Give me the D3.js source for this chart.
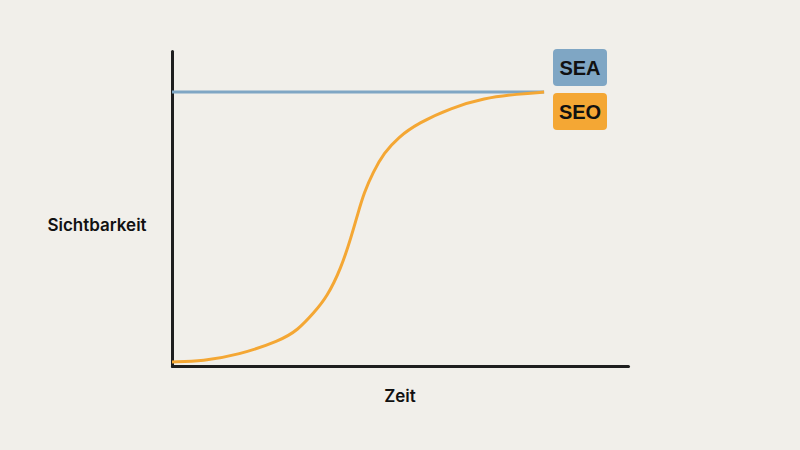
<!DOCTYPE html>
<html>
<head>
<meta charset="utf-8">
<script src="https://cdn.jsdelivr.net/npm/d3@7"></script>
<style>
  html, body { margin: 0; padding: 0; background: #f1efea; }
  svg { display: block; }
</style>
</head>
<body>
<div id="chart"></div>
<script>
// time (0-100) vs visibility (0-100)
const seaTime = [0, 81.6];
const seaValues = [100, 100];

const seoTime = [0, 6.8, 14.5, 23.7, 27.6, 31.1, 34.0, 37.1, 39.3, 40.8, 42.1, 44.1, 46.5, 49.6, 54.0, 61.2, 68.4, 75.9, 81.6];
const seoValues = [1.5, 1.8, 4.0, 9.2, 13.1, 19.4, 25.2, 35.8, 47.1, 55.9, 63.2, 70.8, 77.8, 83.5, 88.7, 94.2, 97.8, 99.3, 100];

const legendLabels = ["SEA", "SEO"];
const legendColors = ["#7fa6c4", "#f4a734"];

const width = 800, height = 450;

const svg = d3.select("#chart")
    .append("svg")
    .attr("width", width)
    .attr("height", height);

svg.append("rect")
    .attr("width", width)
    .attr("height", height)
    .attr("fill", "#f1efea");

const xScale = d3.scaleLinear().domain([0, 100]).range([172, 628]);
const yScale = d3.scaleLinear().domain([0, 115]).range([366, 51]);

const line = d3.line()
    .x(d => xScale(d[0]))
    .y(d => yScale(d[1]))
    .curve(d3.curveBasis);

// axes without ticks
const xAxis = d3.axisBottom(xScale).ticks(0).tickSize(0).tickSizeOuter(0);
const yAxis = d3.axisLeft(yScale).ticks(0).tickSize(0).tickSizeOuter(0);

svg.append("g")
    .attr("transform", `translate(0,${yScale(0)})`)
    .call(xAxis)
    .call(g => g.select(".domain")
        .attr("stroke", "#1e1e1e")
        .attr("stroke-width", 3)
        .attr("stroke-linecap", "round"));

svg.append("g")
    .attr("transform", `translate(${xScale(0)},0)`)
    .call(yAxis)
    .call(g => g.select(".domain")
        .attr("stroke", "#1e1e1e")
        .attr("stroke-width", 3)
        .attr("stroke-linecap", "round"));

svg.append("path")
    .datum(d3.zip(seaTime, seaValues))
    .attr("fill", "none")
    .attr("stroke", legendColors[0])
    .attr("stroke-width", 3)
    .attr("d", line);

svg.append("path")
    .datum(d3.zip(seoTime, seoValues))
    .attr("fill", "none")
    .attr("stroke", legendColors[1])
    .attr("stroke-width", 3)
    .attr("d", line);

// axis labels
svg.append("text")
    .attr("x", 97)
    .attr("y", 231)
    .attr("text-anchor", "middle")
    .attr("font-family", "Inter, sans-serif")
    .attr("font-weight", 600)
    .attr("font-size", 17)
    .attr("fill", "#111")
    .text("Sichtbarkeit");

svg.append("text")
    .attr("x", 400)
    .attr("y", 402)
    .attr("text-anchor", "middle")
    .attr("font-family", "Inter, sans-serif")
    .attr("font-weight", 600)
    .attr("font-size", 17)
    .attr("fill", "#111")
    .text("Zeit");

// legend boxes
const legend = svg.selectAll(".legend")
    .data(legendLabels)
    .enter()
    .append("g")
    .attr("class", "legend")
    .attr("transform", (d, i) => `translate(553,${49 + i * 44})`);

legend.append("rect")
    .attr("width", 54)
    .attr("height", 37)
    .attr("rx", 4)
    .attr("fill", (d, i) => legendColors[i]);

legend.append("text")
    .attr("x", 27)
    .attr("y", 26)
    .attr("text-anchor", "middle")
    .attr("font-family", "'Liberation Sans', Arial, sans-serif")
    .attr("font-weight", 700)
    .attr("font-size", 20)
    .attr("fill", "#111")
    .text(d => d);
</script>
</body>
</html>
